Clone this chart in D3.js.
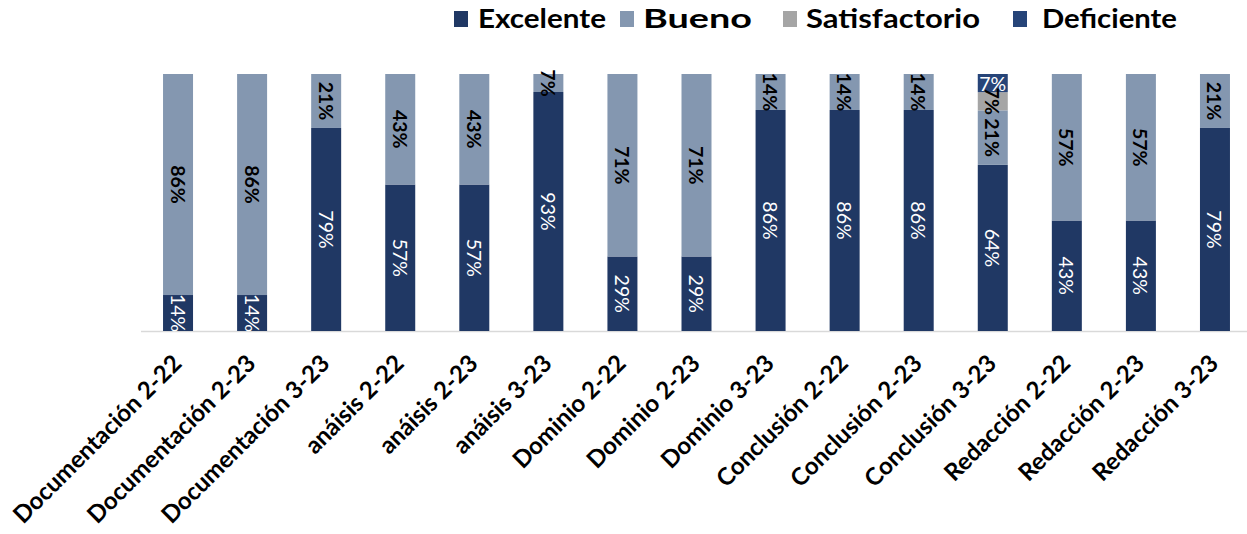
<!DOCTYPE html>
<html><head><meta charset="utf-8">
<script src="https://cdn.jsdelivr.net/npm/d3@7"></script>
<style>body{margin:0;background:#fff;}svg{display:block;font-family:Lato,"Open Sans",sans-serif;}</style>
</head><body><svg id="c" width="1247" height="534"></svg>
<script>
const categories = ["Documentación 2-22","Documentación 2-23","Documentación 3-23","anáisis 2-22","anáisis 2-23","anáisis 3-23","Dominio 2-22","Dominio 2-23","Dominio 3-23","Conclusión 2-22","Conclusión 2-23","Conclusión 3-23","Redacción 2-22","Redacción 2-23","Redacción 3-23"];
const seriesNames = ["Excelente","Bueno","Satisfactorio","Deficiente"];
const excelente    = [14,14,79,57,57,93,29,29,86,86,86,64,43,43,79];
const bueno        = [86,86,21,43,43,7,71,71,14,14,14,21,57,57,21];
const satisfactorio= [0,0,0,0,0,0,0,0,0,0,0,7,0,0,0];
const deficiente   = [0,0,0,0,0,0,0,0,0,0,0,7,0,0,0];
const colors = ["#203864","#8497B0","#A5A5A5","#264478"];

const rows = categories.map((c,i)=>({cat:c,Excelente:excelente[i],Bueno:bueno[i],Satisfactorio:satisfactorio[i],Deficiente:deficiente[i]}));
const stack = d3.stack().keys(seriesNames).offset(d3.stackOffsetExpand);
const series = stack(rows);

const svg = d3.select("#c");
const x0=141, x1=1252, yTop=74, yBot=331;
const x = d3.scaleBand().domain(categories).range([x0,x1]).paddingInner(0.595).paddingOuter(0.2975);
const y = d3.scaleLinear().domain([0,1]).range([yBot,yTop]);

svg.append("line").attr("x1",x0).attr("x2",x1).attr("y1",yBot+0.5).attr("y2",yBot+0.5).attr("stroke","#D9D9D9").attr("stroke-width",1.5);

const g = svg.append("g");
series.forEach((s,si)=>{
  g.selectAll(null).data(s).enter().append("rect")
    .attr("x",d=>x(d.data.cat)).attr("width",x.bandwidth())
    .attr("y",d=>y(d[1])).attr("height",d=>y(d[0])-y(d[1]))
    .attr("fill",colors[si]);
});
series.forEach((s,si)=>{
  const key = seriesNames[si];
  s.forEach(d=>{
    const v = d.data[key];
    if(!v) return;
    const cx = x(d.data.cat)+x.bandwidth()/2;
    const cy = (y(d[0])+y(d[1]))/2;
    const t = svg.append("text").text(v+"%").attr("font-size",19.5).attr("dominant-baseline","central").attr("text-anchor","middle");
    if(key==="Deficiente"){
      t.attr("x",cx).attr("y",cy).attr("fill","#fff");
    } else {
      t.attr("transform",`translate(${cx},${cy}) rotate(90)`);
      if(key==="Excelente") t.attr("fill","#fff");
      else t.attr("fill","#000").attr("font-weight","bold");
    }
  });
});

const xl = svg.append("g");
categories.forEach(c=>{
  const cx = x(c)+x.bandwidth()/2;
  xl.append("text").text(c)
    .attr("transform",`translate(${cx+5},${yBot+34}) rotate(-45)`)
    .attr("text-anchor","end").attr("font-size",24).attr("font-weight","bold").attr("fill","#000");
});

const legSq = [454,620,783,1013];
const legTx = [478,643,806,1042];
const legW = [128,109,174,135];
seriesNames.forEach((n,i)=>{
  svg.append("rect").attr("x",legSq[i]).attr("y",11).attr("width",14).attr("height",16).attr("fill",colors[i]);
  svg.append("text").text(n).attr("x",legTx[i]).attr("y",28).attr("font-size",26).attr("font-weight","bold").attr("fill","#000")
    .attr("textLength",legW[i]).attr("lengthAdjust","spacingAndGlyphs");
});
</script></body></html>
